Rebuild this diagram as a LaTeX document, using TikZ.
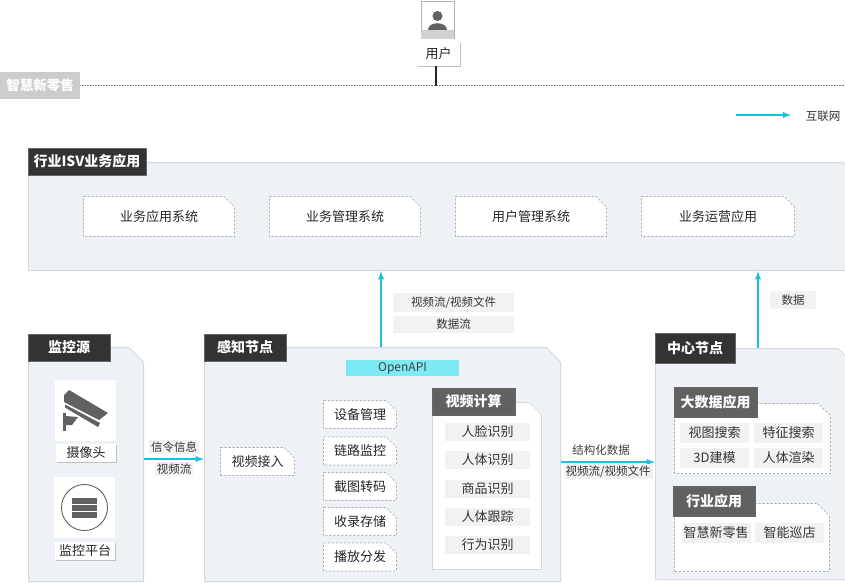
\documentclass[tikz,border=0pt]{standalone}
\usepackage{fontspec}
\setmainfont{Noto Sans CJK SC}
\usetikzlibrary{shadows}
\definecolor{netline}{HTML}{1CBFDC}
\definecolor{apifill}{HTML}{7CE9F5}
\definecolor{panelfill}{HTML}{EEF1F5}
\definecolor{paneldraw}{HTML}{D6D9DC}
\definecolor{tagfill}{HTML}{F0F2F4}
% box with its top right corner cut off: size of the cut, look of the outline
\tikzset{snip/.style 2 args={rectangle,inner sep=0pt,path picture={
    \draw[#2] ([shift={(.5pt,.5pt)}]path picture bounding box.south west)
        -- ([shift={(.5pt,-.5pt)}]path picture bounding box.north west)
        -- ([shift={(-#1,-.5pt)}]path picture bounding box.north east)
        -- ([shift={(-.5pt,-#1)}]path picture bounding box.north east)
        -- ([shift={(-.5pt,.5pt)}]path picture bounding box.south east) -- cycle;}}}
\tikzstyle{signal}=[arrows={-latex},draw=netline,line width=1.8pt]
\tikzstyle{dashlook}=[draw=black!35,dash pattern=on 2pt off 2pt,line width=.7pt,fill=white]
\tikzstyle{panel}=[snip={15pt}{draw=paneldraw,line width=1pt,fill=panelfill}]
\tikzstyle{slot}=[snip={11pt}{dashlook},font=\fontsize{13}{15}\selectfont,text=black!85]
\tikzstyle{title}=[rectangle,fill=black!80,draw=black!60,inner sep=0pt,text=white,
    font=\fontsize{14}{16}\selectfont\bfseries]
\tikzstyle{subtitle}=[style=title,fill=black!62]
\tikzstyle{tag}=[rectangle,fill=tagfill,inner sep=0pt,text=black!80,
    font=\fontsize{11.5}{13}\selectfont]
\tikzstyle{item}=[style=tag,minimum width=69pt,minimum height=20pt,
    font=\fontsize{13}{15}\selectfont]
\tikzstyle{iconbox}=[rectangle,fill=white,inner sep=0pt,minimum width=61pt,minimum height=61pt]
\tikzstyle{caption}=[rectangle,fill=white,inner sep=0pt,text=black!85,
    font=\fontsize{13}{15}\selectfont,
    drop shadow={shadow xshift=1pt,shadow yshift=-1pt,fill=black!25,opacity=1}]
\begin{document}
\begin{tikzpicture}[x=1pt,y=-1pt]
    \useasboundingbox (0,0) rectangle (845,586);
    % user
    \node[rectangle,draw=black!30,line width=1pt,fill=white,inner sep=0pt,
        minimum width=33pt,minimum height=37pt] (usericon) at (437.5,20.5) {};
    \fill[black!18] (421,30) rectangle (454,39);
    \fill[black!62] (437.5,16) circle (5pt);
    \fill[black!62] (428,30) .. controls (428,21) and (447,21) .. (447,30) -- cycle;
    \node[caption,minimum width=43pt,minimum height=24pt] (user) at (438.5,54) {用户};
    \node[rectangle,fill=black!20,inner sep=0pt,text=white,minimum width=80pt,minimum height=27pt,
        font=\fontsize{13.5}{15}\selectfont\bfseries] (retail) at (40,85.5) {智慧新零售};
    \coordinate (lineend) at (845,85.5);
    \coordinate (usertap) at (436,85.5);
    \draw[black!55,densely dotted,line width=.6pt] (retail.east) -- (lineend);
    \draw[black!85,line width=1.2pt] (user.south -| usertap) -- (usertap);
    % legend
    \coordinate (legendstart) at (736,115);
    \coordinate (legendend) at (791,115);
    \draw[signal] (legendstart) -- (legendend);
    \node[font=\fontsize{11.5}{13}\selectfont,text=black!80,inner sep=0pt] (legend) at (823,116) {互联网};
    % ISV
    \node[panel,minimum width=830pt,minimum height=109pt] (isv) at (443,216.5) {};
    \node[title,minimum width=118pt,minimum height=27pt] (isvtitle) at (87,161.5) {行业ISV业务应用};
    \foreach \name/\x/\w/\txt in {appsys/159/152/业务应用系统,mgmtsys/345/152/业务管理系统,
        usersys/531/152/用户管理系统,opsys/718/154/业务运营应用}
        \node[slot,minimum width=\w pt,minimum height=41pt] (\name) at (\x,216.5) {\txt};
    % source
    \node[panel,minimum width=116pt,minimum height=235pt] (source) at (86,464.5) {};
    \node[title,minimum width=82pt,minimum height=27pt] (sourcetitle) at (69,347.5) {监控源};
    \node[iconbox] (camicon) at (85.5,410.5) {};
    \fill[black!62] (69,390) -- (108,413) -- (99,420) -- (64,402) -- (64,395) -- cycle;
    \fill[black!62] (65,404.5) -- (100,423) -- (98,427) -- (65,407.5) -- cycle;
    \fill[black!62] (62.5,413) rectangle (65.5,431);
    \fill[black!62] (65.5,416) -- (78,417) -- (72,425) -- (65.5,425) -- cycle;
    \node[caption,minimum width=60pt,minimum height=18pt] (cam) at (86,453) {摄像头};
    \node[iconbox] (serveicon) at (84.5,507.5) {};
    \draw[black!62,line width=.9pt] (84.5,507.5) circle (23pt);
    \foreach \y in {498,505,512}
        \fill[black!62] (71.5,\y) rectangle (97,\y+5.6);
    \node[caption,minimum width=60pt,minimum height=18pt] (serve) at (85,551) {监控平台};
    % edge node
    \node[panel,minimum width=357pt,minimum height=235pt] (edge) at (382.5,464.5) {};
    \node[title,minimum width=82pt,minimum height=27pt] (edgetitle) at (245,347.5) {感知节点};
    \node[rectangle,fill=apifill,inner sep=0pt,minimum width=113pt,minimum height=16pt,text=black!75,
        font=\fontsize{12}{14}\selectfont] (openapi) at (402.5,368) {OpenAPI};
    \node[slot,minimum width=75pt,minimum height=29pt] (access) at (257.5,461.5) {视频接入};
    \foreach \name/\y/\txt in {device/414.5/设备管理,link/451/链路监控,snap/486.5/截图转码,
        store/521.5/收录存储,play/557/播放分发}
        \node[slot,minimum width=74pt,minimum height=29pt] (\name) at (360,\y) {\txt};
    \node[snip={13pt}{draw=paneldraw,line width=.7pt,fill=white},minimum width=110pt,minimum height=168pt] (video) at (487,486) {};
    \node[subtitle,minimum width=83pt,minimum height=27pt] (videotitle) at (473.5,401.5) {视频计算};
    \foreach \name/\y/\txt in {face/432/人脸识别,body/460/人体识别,goods/489/商品识别,
        track/517/人体跟踪,action/545/行为识别}
        \node[item,minimum width=85pt,minimum height=18pt] (\name) at (487.5,\y) {\txt};
    % center node
    \node[panel,minimum width=198pt,minimum height=232pt] (center) at (754,464) {};
    \node[title,minimum width=80pt,minimum height=30pt] (centertitle) at (695,348) {中心节点};
    \node[snip={13pt}{dashlook},minimum width=157pt,minimum height=71pt] (bigdata) at (752.5,438.5) {};
    \node[subtitle,minimum width=83pt,minimum height=30pt] (bigdatatitle) at (715.5,402) {大数据应用};
    \foreach \name/\x/\y/\txt in {viewsearch/714.5/433/视图搜索,featsearch/788.5/433/特征搜索,
        model/714.5/458/3D建模,render/788.5/458/人体渲染}
        \node[item] (\name) at (\x,\y) {\txt};
    \node[snip={13pt}{dashlook},minimum width=156pt,minimum height=69pt] (industry) at (752,537.5) {};
    \node[subtitle,minimum width=82pt,minimum height=30pt] (industrytitle) at (714,501) {行业应用};
    \foreach \name/\x/\txt in {newretail/716/智慧新零售,patrol/789.5/智能巡店}
        \node[item] (\name) at (\x,533) {\txt};
    % connectors
    \coordinate (upedge) at (381,300);
    \coordinate (upcenter) at (758,300);
    \coordinate (sideflow) at (608,462);
    \draw[signal] (edge.north -| upedge) -- (isv.south -| upedge);
    \draw[signal] (center.north -| upcenter) -- (isv.south -| upcenter);
    \draw[signal] ([yshift=2.5pt]source.east |- access) -- ([yshift=2.5pt]edge.west |- access);
    \draw[signal] (edge.east |- sideflow) -- (center.west |- sideflow);
    % flow labels
    \node[tag,minimum width=121pt,minimum height=19pt] (flowa) at (453.5,302.5) {视频流/视频文件};
    \node[tag,minimum width=121pt,minimum height=17pt] (flowb) at (453.5,324.5) {数据流};
    \node[tag,minimum width=46pt,minimum height=18pt] (flowc) at (793,300) {数据};
    \node[tag,minimum width=50pt,minimum height=14pt] (signaling) at (174,447) {信令信息};
    \node[tag,minimum width=38pt,minimum height=14pt] (stream) at (174,469) {视频流};
    \node[font=\fontsize{11.5}{13}\selectfont,text=black!75,inner sep=0pt] (structured) at (601,450) {结构化数据};
    \node[tag,minimum width=89pt,minimum height=15pt] (files) at (608,471.5) {视频流/视频文件};
\end{tikzpicture}
\end{document}
